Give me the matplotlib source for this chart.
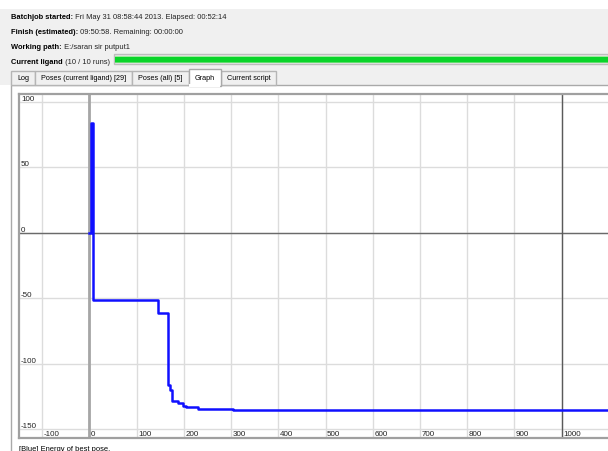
import numpy as np
import matplotlib.pyplot as plt
from matplotlib.patches import Rectangle

plt.rcParams['font.family'] = ['Liberation Sans', 'DejaVu Sans']

# Best pose energy, updated at these iterations (held until the next change)
iterations = [0, 3, 7, 146, 167, 171, 175, 188, 199, 205, 229, 304, 1100]
best_energy = [0, 84, -51, -61, -116, -120, -128.5, -130, -132, -133, -134.6, -135.3, -135.3]

x_ticks = [-100, 0, 100, 200, 300, 400, 500, 600, 700, 800, 900, 1000]
y_ticks = [-150, -100, -50, 0, 50, 100]

header_bold = ["Batchjob started:", "Finish (estimated):", "Working path:", "Current ligand"]
header_rest = [" Fri May 31 08:58:44 2013. Elapsed: 00:52:14",
               " 09:50:58. Remaining: 00:00:00",
               " E:/saran sir putput1",
               " (10 / 10 runs)"]
tab_names = ["Log", "Poses (current ligand) [29]", "Poses (all) [5]", "Graph", "Current script"]
selected_tab = "Graph"
legend_text = "[Blue] Energy of best pose."

W, H = 608, 452
fig = plt.figure(figsize=(W / 100, H / 100), dpi=100)
fig.patch.set_facecolor('white')

# window background drawn in pixel units
bg = fig.add_axes([0, 0, 1, 1])
bg.set_xlim(0, W)
bg.set_ylim(H, 0)
bg.axis('off')
bg.add_patch(Rectangle((0, 10), W, 76, color='#f0f0f0', lw=0))

renderer = fig.canvas.get_renderer()
fs = 5.8
fs_head = 5.4
fs_tab = 5.2
for i, (b, r) in enumerate(zip(header_bold, header_rest)):
    y = 19 + 15 * i
    t = bg.text(11, y, b, weight='bold', fontsize=fs_head, va='baseline')
    w = t.get_window_extent(renderer).width
    bg.text(11 + w, y, r, fontsize=fs_head, va='baseline', color='#222222')

# progress bar
bar_x0 = 114
bg.add_patch(Rectangle((bar_x0, 55), W - bar_x0, 10, facecolor='#e6e6e6', edgecolor='#bdbdbd', lw=1))
bg.add_patch(Rectangle((bar_x0 + 1, 56.5), W - bar_x0, 1.5, color='#9fea9f', lw=0))
bg.add_patch(Rectangle((bar_x0 + 1, 58), W - bar_x0, 4.5, color='#0ad42a', lw=0))
bg.add_patch(Rectangle((bar_x0 + 1, 62.5), W - bar_x0, 1.5, color='#62dd6e', lw=0))

# tab page
bg.add_patch(Rectangle((11, 86), W, H, facecolor='white', edgecolor='#a9a9a9', lw=1))
x = 11
for name in tab_names:
    t = bg.text(0, 0, name, fontsize=fs_tab)
    tw = t.get_window_extent(renderer).width
    t.remove()
    w = tw + 12
    if name == selected_tab:
        bg.add_patch(Rectangle((x, 70), w, 17, facecolor='white', edgecolor='#a9a9a9', lw=1, zorder=3))
        bg.add_patch(Rectangle((x + 0.6, 85), w - 1.2, 3, color='white', lw=0, zorder=4))
        bg.text(x + w / 2, 78, name, fontsize=fs_tab, ha='center', va='center', zorder=5)
    else:
        bg.add_patch(Rectangle((x, 72), w, 14, facecolor='#f0f0f0', edgecolor='#b5b5b5', lw=1, zorder=2))
        bg.text(x + w / 2, 79, name, fontsize=fs_tab, ha='center', va='center', zorder=5)
    x += w

bg.text(19, 451, legend_text, fontsize=fs_head, va='baseline')

# graph
ax = fig.add_axes([19 / W, 13 / H, 1 - 19 / W, (439 - 95) / H])
ax.set_xlim(-149, 1098)
ax.set_ylim(-156.5, 106)
ax.set_facecolor('white')
ax.set_xticks([])
ax.set_yticks([])
for s in ['left', 'top', 'bottom']:
    ax.spines[s].set_color('#a0a0a0')
    ax.spines[s].set_linewidth(1.6)
ax.spines['right'].set_visible(False)

for xv in x_ticks:
    ax.axvline(xv, color='#dcdcdc', lw=1, zorder=1)
for yv in y_ticks:
    ax.axhline(yv, color='#dcdcdc', lw=1, zorder=1)
ax.axhline(0, color='#6a6a6a', lw=1, zorder=2)
ax.axvline(0, color='#a6a6a6', lw=2, zorder=2)
ax.axvline(1000, color='#5a5a5a', lw=1, zorder=2)

ax.step(iterations, best_energy, where='post', color='#1010ff', lw=1.8, zorder=3)

for yv in y_ticks:
    ax.annotate(str(yv), xy=(-149, yv), xytext=(1.5, 0), textcoords='offset points',
                fontsize=fs, va='bottom', ha='left', color='#222222', annotation_clip=False)
for xv in x_ticks:
    ax.annotate(str(xv), xy=(xv, -150), xytext=(1, -0.5), textcoords='offset points',
                fontsize=fs, va='top', ha='left', color='#222222')

fig.savefig('out.png', dpi=100)
